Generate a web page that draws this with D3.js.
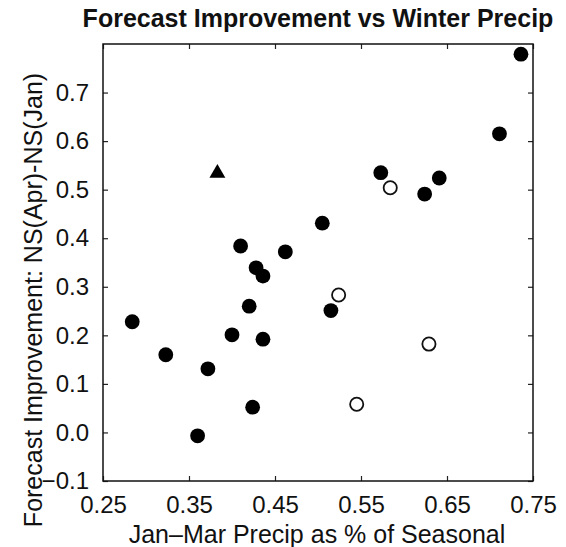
<!DOCTYPE html>
<html>
<head>
<meta charset="utf-8">
<script src="https://cdn.jsdelivr.net/npm/d3@7"></script>
<style>
  body { margin: 0; background: #fff; }
  text { font-family: "Liberation Sans", Arial, Helvetica, sans-serif; fill: #111; }
</style>
</head>
<body>
<div id="chart"></div>
<script>
// Data
const filledX = [0.284, 0.323, 0.372, 0.360, 0.400, 0.420, 0.424, 0.436, 0.428, 0.436,
                 0.410, 0.462, 0.505, 0.515, 0.573, 0.624, 0.641, 0.711, 0.736];
const filledY = [0.228, 0.160, 0.131, -0.007, 0.201, 0.260, 0.052, 0.192, 0.339, 0.322,
                 0.384, 0.372, 0.431, 0.251, 0.535, 0.491, 0.524, 0.615, 0.779];
const openX = [0.584, 0.524, 0.629, 0.545];
const openY = [0.504, 0.283, 0.182, 0.058];
const triX = [0.383];
const triY = [0.534];

const xTicks = [0.25, 0.35, 0.45, 0.55, 0.65, 0.75];
const yTicks = [-0.1, 0, 0.1, 0.2, 0.3, 0.4, 0.5, 0.6, 0.7];

const W = 566, H = 547;
const m = {left: 103, right: 33, top: 44, bottom: 66};
const pw = W - m.left - m.right, ph = H - m.top - m.bottom;

const svg = d3.select("#chart").append("svg")
    .attr("width", W).attr("height", H);

const x = d3.scaleLinear().domain([0.25, 0.75]).range([m.left, m.left + pw]);
const y = d3.scaleLinear().domain([-0.1, 0.8]).range([m.top + ph, m.top]);

const fmtY = d => d < 0 ? "\u2212" + d3.format(".1f")(-d) : d3.format(".1f")(d);

// axes, matlab style: ticks pointing inward on all sides
const tl = 5;
svg.append("g").attr("transform", `translate(0,${m.top + ph})`)
    .call(d3.axisBottom(x).tickValues(xTicks).tickSize(-tl).tickPadding(15).tickFormat(d3.format(".2f")))
    .call(g => g.select(".domain").remove());
svg.append("g").attr("transform", `translate(0,${m.top})`)
    .call(d3.axisTop(x).tickValues(xTicks).tickSize(-tl).tickFormat(""))
    .call(g => g.select(".domain").remove());
svg.append("g").attr("transform", `translate(${m.left},0)`)
    .call(d3.axisLeft(y).tickValues(yTicks).tickSize(-tl).tickPadding(14).tickFormat(fmtY))
    .call(g => g.select(".domain").remove());
svg.append("g").attr("transform", `translate(${m.left + pw},0)`)
    .call(d3.axisRight(y).tickValues(yTicks).tickSize(-tl).tickFormat(""))
    .call(g => g.select(".domain").remove());

svg.selectAll(".tick line").attr("stroke", "#222").attr("stroke-width", 1.2);
svg.selectAll(".tick text").attr("font-size", 24).attr("fill", "#111")
    .attr("font-family", "Liberation Sans, Arial, sans-serif");

// frame
svg.append("rect")
    .attr("x", m.left).attr("y", m.top)
    .attr("width", pw).attr("height", ph)
    .attr("fill", "none").attr("stroke", "#111").attr("stroke-width", 1.5);

// points
const filled = filledX.map((v, i) => [v, filledY[i]]);
const open = openX.map((v, i) => [v, openY[i]]);
const tri = triX.map((v, i) => [v, triY[i]]);

svg.append("g").selectAll("circle")
    .data(filled).join("circle")
    .attr("cx", d => x(d[0])).attr("cy", d => y(d[1]))
    .attr("r", 7.4).attr("fill", "#000");

svg.append("g").selectAll("circle")
    .data(open).join("circle")
    .attr("cx", d => x(d[0])).attr("cy", d => y(d[1]))
    .attr("r", 6.6).attr("fill", "#fff").attr("stroke", "#111").attr("stroke-width", 1.8);

svg.append("g").selectAll("path")
    .data(tri).join("path")
    .attr("transform", d => `translate(${x(d[0])},${y(d[1])})`)
    .attr("d", d3.symbol(d3.symbolTriangle, 110))
    .attr("fill", "#000");

// labels
svg.append("text")
    .attr("x", 318).attr("y", 27)
    .attr("text-anchor", "middle")
    .attr("font-size", 25).attr("font-weight", "bold")
    .text("Forecast Improvement vs Winter Precip");

svg.append("text")
    .attr("x", 317).attr("y", 543)
    .attr("text-anchor", "middle")
    .attr("font-size", 25)
    .text("Jan\u2013Mar Precip as % of Seasonal");

svg.append("text")
    .attr("transform", "translate(42,300) rotate(-90)")
    .attr("text-anchor", "middle")
    .attr("font-size", 25)
    .text("Forecast Improvement: NS(Apr)-NS(Jan)");
</script>
</body>
</html>
